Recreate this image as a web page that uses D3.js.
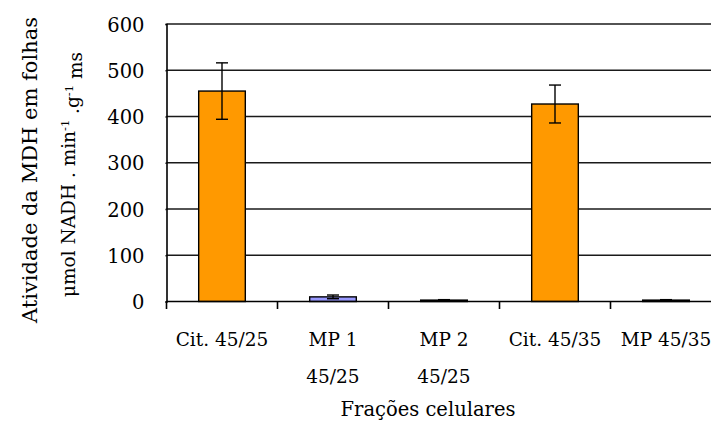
<!DOCTYPE html>
<html><head><meta charset="utf-8">
<script src="https://cdn.jsdelivr.net/npm/d3@7"></script>
<style>
body{margin:0;background:#fff;overflow:hidden}
text{font-family:"DejaVu Serif",serif;fill:#000}
</style>
</head><body><svg id="c" width="711" height="428"></svg>
<script>
const categories = ["Cit. 45/25", "MP 1\n45/25", "MP 2\n45/25", "Cit. 45/35", "MP 45/35"];
const values = [455, 10, 3, 427, 3];
const errors = [61, 4, 1, 41, 1];
const barColors = ["#FF9900", "#9999FF", "#9999FF", "#FF9900", "#9999FF"];
const yTicks = [0, 100, 200, 300, 400, 500, 600];
const xTitle = "Frações celulares";
const yTitle1 = "Atividade da MDH em folhas";

const svg = d3.select("#c");
const pLeft = 166.5, pRight = 721.5, pTop = 24, pBottom = 301.5;

const x = d3.scaleBand().domain(categories).range([pLeft, pRight]).paddingInner(0.58).paddingOuter(0.29);
const y = d3.scaleLinear().domain([0, 600]).range([pBottom, pTop]);
const step = x.step();

// gridlines
svg.append("g").selectAll("line").data(yTicks.filter(d => d > 0)).join("line")
  .attr("x1", pLeft).attr("x2", 711).attr("y1", d => y(d)).attr("y2", d => y(d))
  .attr("stroke", "#1a1a1a").attr("stroke-width", 1.3);

// y axis
const yAxis = d3.axisLeft(y).tickValues(yTicks).tickSize(1).tickPadding(21).tickFormat(d3.format("d"));
const gy = svg.append("g").attr("transform", `translate(${pLeft},0)`).call(yAxis);
gy.select(".domain").attr("stroke", "#000").attr("stroke-width", 1.6);
gy.selectAll(".tick line").attr("stroke", "#000").attr("stroke-width", 1.3);
gy.selectAll(".tick text").attr("font-size", 19.5).attr("font-family", "DejaVu Serif").attr("fill", "#000").attr("dy", "0.36em");

// bars
svg.append("g").selectAll("rect").data(categories).join("rect")
  .attr("x", d => x(d)).attr("width", x.bandwidth())
  .attr("y", (d, i) => y(values[i])).attr("height", (d, i) => y(0) - y(values[i]))
  .attr("fill", (d, i) => barColors[i]).attr("stroke", "#000").attr("stroke-width", 1.4);

// error bars
const eg = svg.append("g").attr("stroke", "#000").attr("stroke-width", 1.4);
categories.forEach((c, i) => {
  const cx = x(c) + x.bandwidth() / 2;
  const hi = y(values[i] + errors[i]), lo = y(Math.max(0, values[i] - errors[i]));
  eg.append("line").attr("x1", cx).attr("x2", cx).attr("y1", hi).attr("y2", lo);
  eg.append("line").attr("x1", cx - 6).attr("x2", cx + 6).attr("y1", hi).attr("y2", hi);
  eg.append("line").attr("x1", cx - 6).attr("x2", cx + 6).attr("y1", lo).attr("y2", lo);
});

// x axis line and ticks
svg.append("line").attr("x1", pLeft).attr("x2", 711).attr("y1", pBottom).attr("y2", pBottom)
  .attr("stroke", "#000").attr("stroke-width", 1.6);
const bounds = categories.map(c => x(c) + x.bandwidth() / 2 - step / 2);
svg.append("g").selectAll("line").data(bounds).join("line")
  .attr("x1", d => d).attr("x2", d => d).attr("y1", pBottom).attr("y2", pBottom + 7.5)
  .attr("stroke", "#000").attr("stroke-width", 1.6);

// x labels
const xl = svg.append("g");
categories.forEach(c => {
  const cx = x(c) + x.bandwidth() / 2;
  c.split("\n").forEach((line, k) => {
    xl.append("text").attr("x", cx).attr("y", 345.5 + k * 37).attr("text-anchor", "middle")
      .attr("font-size", 18.5).text(line);
  });
});

// x title
svg.append("text").attr("x", 428).attr("y", 416).attr("text-anchor", "middle")
  .attr("font-size", 19.5).text(xTitle);

// y titles
svg.append("text").attr("transform", "translate(36.5,170) rotate(-90)").attr("text-anchor", "middle")
  .attr("font-size", 21).text(yTitle1);
const t2 = svg.append("text").attr("transform", "translate(75,297) rotate(-90)").attr("text-anchor", "start")
  .attr("font-size", 18.5);
t2.append("tspan").text("μmol NADH . min");
t2.append("tspan").attr("dy", "-0.5em").attr("font-size", 11.5).text("-1");
t2.append("tspan").attr("dy", "0.5em").text(" .g");
t2.append("tspan").attr("dy", "-0.5em").attr("font-size", 11.5).text("-1");
t2.append("tspan").attr("dy", "0.5em").text(" ms");
</script>
</body></html>
